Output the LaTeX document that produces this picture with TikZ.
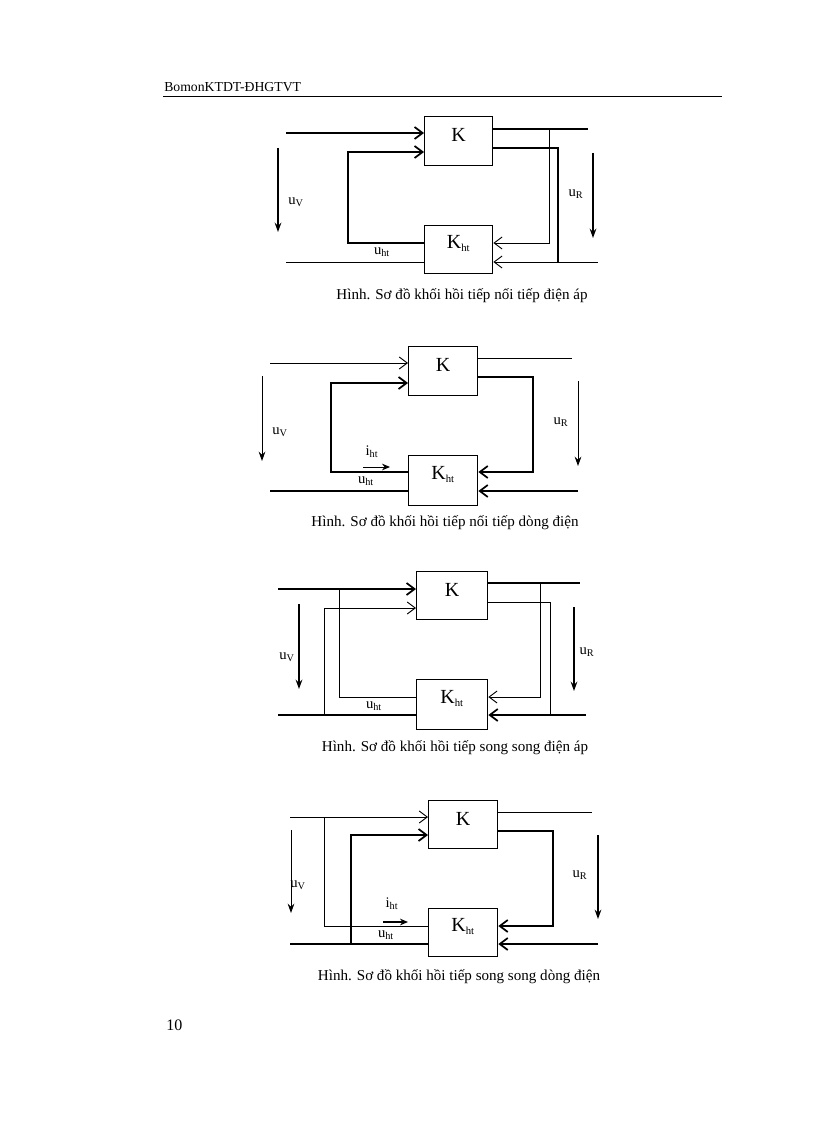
\documentclass[tikz,border=0pt]{standalone}
\usepackage{fontspec}
\setmainfont{Liberation Serif}
\usetikzlibrary{arrows.meta}
\tikzset{
 blk/.style={draw,line width=1pt,anchor=north west,inner sep=0pt},
 thk/.style={line width=1.3pt},
 thn/.style={line width=0.7pt},
 inarr/.style={-{Straight Barb[length=6pt,width=9pt]}},
 varr/.style={-{Stealth[length=7pt,width=5pt]}},
 lab/.style={font=\fontsize{11}{12}\selectfont,inner sep=0pt},
 captxt/.style={font=\fontsize{11.3}{13}\selectfont,inner sep=0pt},
 kt/.style={font=\fontsize{15}{17}\selectfont,yshift=4.5pt}
}
\newcommand{\mybox}[5]{\node[blk,minimum width=#3*0.75pt,minimum height=#4*0.75pt] (#5) at (#1,#2) {};}
\newcommand{\khtxt}{K\textsubscript{\fontsize{8}{9}\selectfont ht}}
\begin{document}
\begin{tikzpicture}[x=0.75pt,y=-0.75pt]
\useasboundingbox (0,0) rectangle (816,1123);
% header
\node[anchor=base west,font=\fontsize{10.3}{12}\selectfont,inner sep=0pt] (hdr) at (164,92) {BomonKTDT-ĐHGTVT};
\draw[line width=0.6pt] (163,96) coordinate (h1) -- (722,96) coordinate (h2);
\node[anchor=base west,font=\fontsize{12}{14}\selectfont,inner sep=0pt] (pg) at (166,1030) {10};

% ===== Diagram 1
\mybox{424}{116}{68}{49}{k1}\node[kt] (k1t) at (k1.center) {K};
\mybox{424}{225}{68}{48}{h1b}\node[kt] (h1t) at (h1b.center) {\khtxt};
\coordinate (a1) at (286,133); \draw[thk,inarr] (a1) -- (a1-|k1.west);
\coordinate (a2) at (348,243);
\draw[thk,inarr] (a2-|h1b.west) -- (a2) -- (348,152) -- (k1.west|-0,152);
\coordinate (a3) at (286,262); \draw[thn] (a3) -- (a3-|h1b.west);
\draw[thk] (k1.east|-0,129) -- (588,129);
\draw[thn,inarr] (549,129) -- (549,243) -- (h1b.east|-0,243);
\draw[thk] (k1.east|-0,148) -- (558,148) -- (558,262);
\coordinate (a4) at (598,262); \draw[thn,inarr] (a4) -- (a4-|h1b.east);
\draw[thk,varr] (278,148) coordinate (v1a) -- (278,232) coordinate (v1b);
\draw[thk,varr] (593,153) coordinate (r1a) -- (593,238) coordinate (r1b);
\node[lab] (uv1) at (296,202) {u\textsubscript{V}};
\node[lab] (ur1) at (576,194) {u\textsubscript{R}};
\node[lab] (uh1) at (382,252) {u\textsubscript{ht}};
\node[captxt] (c1) at (462,296) {Hình. Sơ đồ khối hồi tiếp nối tiếp điện áp};

% ===== Diagram 2
\mybox{408}{346}{69}{49}{k2}\node[kt] (k2t) at (k2.center) {K};
\mybox{408}{455}{69}{50}{h2b}\node[kt] (h2t) at (h2b.center) {\khtxt};
\coordinate (b1) at (270,363); \draw[thn,inarr] (b1) -- (b1-|k2.west);
\coordinate (b2) at (331,472);
\draw[thk,inarr] (b2-|h2b.west) -- (b2) -- (331,383) -- (k2.west|-0,383);
\coordinate (b3) at (270,491); \draw[thk] (b3) -- (b3-|h2b.west);
\draw[thn] (k2.east|-0,358) -- (572,358);
\draw[thk,inarr] (k2.east|-0,377) -- (533,377) -- (533,472) -- (h2b.east|-0,472);
\coordinate (b4) at (578,491); \draw[thk,inarr] (b4) -- (b4-|h2b.east);
\draw[thn,-{Stealth[length=6pt,width=5pt]}] (363,467) coordinate (i2a) -- (390,467) coordinate (i2b);
\draw[thn,varr] (262,376) coordinate (v2a) -- (262,461) coordinate (v2b);
\draw[thn,varr] (578,381) coordinate (r2a) -- (578,466) coordinate (r2b);
\node[lab] (uv2) at (280,432) {u\textsubscript{V}};
\node[lab] (ur2) at (561,422) {u\textsubscript{R}};
\node[lab] (ih2) at (372,452) {i\textsubscript{ht}};
\node[lab] (uh2) at (366,481) {u\textsubscript{ht}};
\node[captxt] (c2) at (445,523) {Hình. Sơ đồ khối hồi tiếp nối tiếp dòng điện};

% ===== Diagram 3
\mybox{416}{571}{71}{48}{k3}\node[kt] (k3t) at (k3.center) {K};
\mybox{416}{679}{71}{50}{h3b}\node[kt] (h3t) at (h3b.center) {\khtxt};
\coordinate (c1a) at (278,589); \draw[thk,inarr] (c1a) -- (c1a-|k3.west);
\draw[thn] (339,589) -- (339,697) -- (h3b.west|-0,697);
\draw[thn,inarr] (324,715) -- (324,608) -- (k3.west|-0,608);
\coordinate (c3) at (278,715); \draw[thk] (c3) -- (c3-|h3b.west);
\draw[thk] (k3.east|-0,583) -- (580,583);
\draw[thn,inarr] (540,583) -- (540,697) -- (h3b.east|-0,697);
\draw[thn] (k3.east|-0,602) -- (550,602) -- (550,715);
\coordinate (c4) at (586,715); \draw[thk,inarr] (c4) -- (c4-|h3b.east);
\draw[thk,varr] (299,604) coordinate (v3a) -- (299,689) coordinate (v3b);
\draw[thk,varr] (574,607) coordinate (r3a) -- (574,691) coordinate (r3b);
\node[lab] (uv3) at (287,657) {u\textsubscript{V}};
\node[lab] (ur3) at (587,652) {u\textsubscript{R}};
\node[lab] (uh3) at (374,706) {u\textsubscript{ht}};
\node[captxt] (c3t) at (455,748) {Hình. Sơ đồ khối hồi tiếp song song điện áp};

% ===== Diagram 4
\mybox{428}{800}{69}{48}{k4}\node[kt] (k4t) at (k4.center) {K};
\mybox{428}{908}{69}{48}{h4b}\node[kt] (h4t) at (h4b.center) {\khtxt};
\coordinate (d1) at (290,817); \draw[thn,inarr] (d1) -- (d1-|k4.west);
\draw[thn] (324,817) -- (324,926) -- (h4b.west|-0,926);
\draw[thk,inarr] (351,944) -- (351,835) -- (k4.west|-0,835);
\coordinate (d3) at (290,944); \draw[thk] (d3) -- (d3-|h4b.west);
\draw[thn] (k4.east|-0,812) -- (592,812);
\draw[thk,inarr] (k4.east|-0,831) -- (553,831) -- (553,926) -- (h4b.east|-0,926);
\coordinate (d4) at (598,944); \draw[thk,inarr] (d4) -- (d4-|h4b.east);
\draw[thk,-{Stealth[length=6pt,width=5pt]}] (383,922) coordinate (i4a) -- (408,922) coordinate (i4b);
\draw[thn,varr] (291,830) coordinate (v4a) -- (291,913) coordinate (v4b);
\draw[thk,varr] (598,835) coordinate (r4a) -- (598,919) coordinate (r4b);
\node[lab] (uv4) at (298,885) {u\textsubscript{V}};
\node[lab] (ur4) at (580,875) {u\textsubscript{R}};
\node[lab] (ih4) at (392,904) {i\textsubscript{ht}};
\node[lab] (uh4) at (386,935) {u\textsubscript{ht}};
\node[captxt] (c4t) at (459,977) {Hình. Sơ đồ khối hồi tiếp song song dòng điện};
\end{tikzpicture}
\end{document}
